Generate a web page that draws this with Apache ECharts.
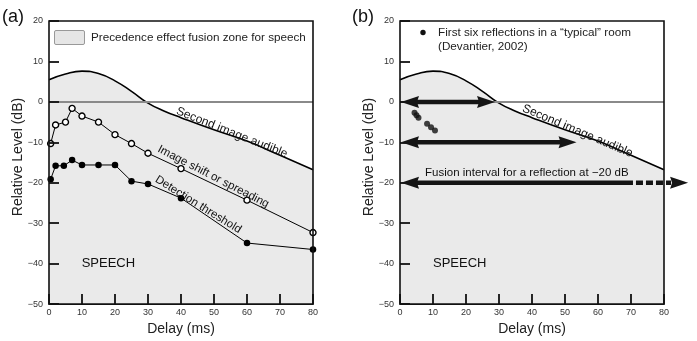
<!DOCTYPE html>
<html>
<head>
<meta charset="utf-8">
<script src="https://cdn.jsdelivr.net/npm/echarts@6/dist/echarts.min.js"></script>
<style>
  html, body { margin: 0; padding: 0; background: #fff; }
  #chart { width: 697px; height: 341px; }
</style>
</head>
<body>
<div id="chart"></div>
<script>
// Upper limit of the precedence-effect fusion zone ("second image audible")
const curveDelay = [0, 5, 10, 15, 20, 25, 30, 35, 40, 50, 60, 70, 80];
const curveLevel = [5.5, 6.9, 7.6, 7.0, 5.2, 2.6, -0.3, -2.3, -3.9, -6.9, -9.7, -13.2, -16.8];

// Image shift or spreading threshold (open circles)
const shiftDelay = [0.5, 2, 5, 7, 10, 15, 20, 25, 30, 40, 60, 80];
const shiftLevel = [-10.3, -5.7, -5.0, -1.6, -3.5, -5.0, -8.1, -10.3, -12.7, -16.5, -24.3, -32.3];

// Detection threshold (filled circles)
const detectDelay = [0.5, 2, 4.5, 7, 10, 15, 20, 25, 30, 40, 60, 80];
const detectLevel = [-19.1, -15.8, -15.8, -14.4, -15.6, -15.6, -15.6, -19.6, -20.3, -23.8, -34.9, -36.5];

// First six reflections in a typical room
const reflDelay = [4.4, 5.0, 5.6, 8.2, 9.4, 10.6];
const reflLevel = [-2.7, -3.3, -3.9, -5.4, -6.3, -7.1];

// Fusion intervals (double-headed arrows) in panel (b)
const arrowLevel = [0, -10, -20];
const arrowStart = [0.3, 0.3, 0.3];
const arrowEnd = [28.8, 53.5, 87.3];
const arrowDashFrom = [null, null, 70.6];

// Axis ticks
const yTicks = [20, 10, 0, -10, -20, -30, -40, -50];
const xTicks = [0, 10, 20, 30, 40, 50, 60, 70, 80];

const FONT = 'Liberation Sans, Arial, Helvetica, sans-serif';
const FILL = '#eaeaea';
const X_MIN = xTicks[0], X_MAX = xTicks[xTicks.length - 1];
const Y_MIN = yTicks[yTicks.length - 1], Y_MAX = yTicks[0];
const TICK_PX = 10;

const zip = (xs, ys) => xs.map((x, i) => [x, ys[i]]);

function makeX(idx) {
  return {
    gridIndex: idx, type: 'value',
    min: X_MIN, max: X_MAX, interval: 10,
    name: 'Delay (ms)', nameLocation: 'middle', nameGap: 15,
    nameTextStyle: { fontFamily: FONT, fontSize: 14, color: '#222' },
    axisLine: { show: false, onZero: false },
    axisTick: { show: false },
    axisLabel: { fontFamily: FONT, fontSize: 9, color: '#333', margin: 4 },
    splitLine: { show: false }
  };
}
function makeY(idx) {
  return {
    gridIndex: idx, type: 'value',
    min: Y_MIN, max: Y_MAX, interval: 10,
    axisLine: { show: false, onZero: false },
    axisTick: { show: false },
    axisLabel: {
      fontFamily: FONT, fontSize: 9, color: '#333', margin: 6,
      formatter: v => String(v).replace('-', '\u2212')
    },
    splitLine: { show: false }
  };
}

// Zero-level reference line plus (once the scales exist) inward tick segments
function zoneMarkLine(dx, dy) {
  const data = [{ yAxis: 0, lineStyle: { color: '#8a8a8a', width: 2, type: 'solid' } }];
  if (dx != null) {
    const tickStyle = { color: '#111', width: 1.8, type: 'solid' };
    yTicks.forEach(v => data.push([{ coord: [X_MIN, v], lineStyle: tickStyle }, { coord: [X_MIN + dx, v] }]));
    xTicks.forEach(v => data.push([{ coord: [v, Y_MIN], lineStyle: tickStyle }, { coord: [v, Y_MIN + dy] }]));
  }
  return {
    silent: true, symbol: ['none', 'none'], label: { show: false },
    lineStyle: { color: '#8a8a8a', width: 2, type: 'solid' },
    data: data
  };
}

function zoneSeries(idx) {
  return {
    type: 'line', xAxisIndex: idx, yAxisIndex: idx,
    data: zip(curveDelay, curveLevel),
    smooth: 0.5, symbol: 'none', z: 1,
    lineStyle: { color: '#000', width: 1.6 },
    areaStyle: { color: FILL, opacity: 1, origin: 'start' },
    markLine: zoneMarkLine(null, null)
  };
}

const chart = echarts.init(document.getElementById('chart'), null, { renderer: 'canvas' });

const option = {
  animation: false,
  backgroundColor: '#fff',
  grid: [
    { left: 49, top: 21, width: 264, height: 288, show: true, borderColor: '#111', borderWidth: 1.6, backgroundColor: 'transparent', z: 9 },
    { left: 400, top: 21, width: 264, height: 288, show: true, borderColor: '#111', borderWidth: 1.6, backgroundColor: 'transparent', z: 9 }
  ],
  xAxis: [makeX(0), makeX(1)],
  yAxis: [makeY(0), makeY(1)],
  series: [
    zoneSeries(0),
    zoneSeries(1),
    {
      type: 'line', xAxisIndex: 0, yAxisIndex: 0, z: 3,
      data: zip(shiftDelay, shiftLevel),
      symbol: 'circle', symbolSize: 6,
      lineStyle: { color: '#000', width: 1 },
      itemStyle: { color: '#fff', borderColor: '#000', borderWidth: 1.4 }
    },
    {
      type: 'line', xAxisIndex: 0, yAxisIndex: 0, z: 3,
      data: zip(detectDelay, detectLevel),
      symbol: 'circle', symbolSize: 6.5,
      lineStyle: { color: '#000', width: 1 },
      itemStyle: { color: '#000' }
    },
    {
      type: 'scatter', xAxisIndex: 1, yAxisIndex: 1, z: 3,
      data: zip(reflDelay, reflLevel),
      symbol: 'circle', symbolSize: 6,
      itemStyle: { color: '#111' }
    },
    {
      // double-headed arrows marking the fusion interval at each level
      type: 'custom', xAxisIndex: 1, yAxisIndex: 1, z: 12, clip: false,
      data: arrowLevel.map((lv, i) => [arrowStart[i], arrowEnd[i], lv]),
      renderItem: function (params, api) {
        const i = params.dataIndex;
        const p1 = api.coord([api.value(0), api.value(2)]);
        const p2 = api.coord([api.value(1), api.value(2)]);
        const y = p1[1];
        const headLen = 18, half = 6, shaft = 4.5;
        const col = '#151515';
        const children = [
          { type: 'polygon', shape: { points: [[p1[0], y], [p1[0] + headLen, y - half], [p1[0] + headLen - 2, y], [p1[0] + headLen, y + half]] }, style: { fill: col } },
          { type: 'polygon', shape: { points: [[p2[0], y], [p2[0] - headLen, y - half], [p2[0] - headLen + 2, y], [p2[0] - headLen, y + half]] }, style: { fill: col } }
        ];
        const dashFrom = arrowDashFrom[i];
        const solidEnd = dashFrom == null ? p2[0] - headLen + 3 : api.coord([dashFrom, 0])[0];
        children.push({ type: 'line', shape: { x1: p1[0] + headLen - 3, y1: y, x2: solidEnd, y2: y }, style: { stroke: col, lineWidth: shaft } });
        if (dashFrom != null) {
          children.push({ type: 'line', shape: { x1: solidEnd + 3, y1: y, x2: p2[0] - headLen + 1, y2: y }, style: { stroke: col, lineWidth: shaft, lineDash: [7, 3] } });
        }
        return { type: 'group', children: children };
      }
    }
  ]
};
chart.setOption(option);

// Tick length of TICK_PX pixels expressed in each axis' data units
const corner = chart.convertToPixel({ gridIndex: 0 }, [X_MIN, Y_MIN]);
const inner = chart.convertFromPixel({ gridIndex: 0 }, [corner[0] + TICK_PX, corner[1] - TICK_PX]);
const tickDx = inner[0] - X_MIN;
const tickDy = inner[1] - Y_MIN;
chart.setOption({
  series: [
    { markLine: zoneMarkLine(tickDx, tickDy) },
    { markLine: zoneMarkLine(tickDx, tickDy) }
  ]
});

// Annotation texts placed at data positions: [grid, delay, level, angle(deg), text, size, align]
const notes = [
  [0, 55.4, -7.6, 21.7, 'Second image audible', 12, 'center'],
  [0, 49.8, -18.5, 27.2, 'Image shift or spreading', 11.5, 'center'],
  [0, 45.2, -25.4, 31.8, 'Detection threshold', 11.5, 'center'],
  [0, 9.9, -39.9, 0, 'SPEECH', 13, 'left'],
  [1, 53.8, -7.2, 22.9, 'Second image audible', 12, 'center'],
  [1, 10.0, -39.9, 0, 'SPEECH', 13, 'left'],
  [1, 7.6, -17.6, 0, 'Fusion interval for a reflection at \u221220 dB', 11.5, 'left']
];

const graphics = notes.map(n => {
  const p = chart.convertToPixel({ gridIndex: n[0] }, [n[1], n[2]]);
  return {
    type: 'text', x: p[0], y: p[1], rotation: -n[3] * Math.PI / 180, z: 10,
    style: { text: n[4], font: n[5] + 'px ' + FONT, fill: '#111', align: n[6], verticalAlign: 'middle' }
  };
});

// Panel letters, axis titles and legends
graphics.push(
  { type: 'text', x: 2, y: 17, style: { text: '(a)', font: '18px ' + FONT, fill: '#111', verticalAlign: 'middle' } },
  { type: 'text', x: 352, y: 17, style: { text: '(b)', font: '18px ' + FONT, fill: '#111', verticalAlign: 'middle' } },
  { type: 'text', x: 18, y: 157, rotation: Math.PI / 2, style: { text: 'Relative Level (dB)', font: '14px ' + FONT, fill: '#222', align: 'center', verticalAlign: 'middle' } },
  { type: 'text', x: 369, y: 157, rotation: Math.PI / 2, style: { text: 'Relative Level (dB)', font: '14px ' + FONT, fill: '#222', align: 'center', verticalAlign: 'middle' } },
  { type: 'rect', shape: { x: 54.5, y: 30.5, width: 30, height: 14, r: 1.5 }, style: { fill: '#e6e6e6', stroke: '#999', lineWidth: 1 }, z: 10 },
  { type: 'text', x: 91, y: 37.5, z: 10, style: { text: 'Precedence effect fusion zone for speech', font: '11.7px ' + FONT, fill: '#222', verticalAlign: 'middle' } },
  { type: 'circle', shape: { cx: 423, cy: 32.5, r: 2.7 }, style: { fill: '#111' }, z: 10 },
  { type: 'text', x: 438, y: 32.5, z: 10, style: { text: 'First six reflections in a \u201ctypical\u201d room', font: '11.7px ' + FONT, fill: '#222', verticalAlign: 'middle' } },
  { type: 'text', x: 438, y: 46.5, z: 10, style: { text: '(Devantier, 2002)', font: '11.7px ' + FONT, fill: '#222', verticalAlign: 'middle' } }
);

chart.setOption({ graphic: graphics });
</script>
</body>
</html>
